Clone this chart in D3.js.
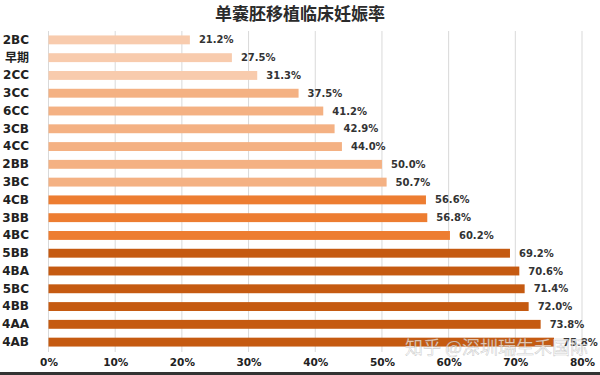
<!DOCTYPE html>
<html>
<head>
<meta charset="utf-8">
<script src="https://cdn.jsdelivr.net/npm/d3@7"></script>
<style>
  body { margin: 0; background: #fff; }
  svg { display: block; font-family: "DejaVu Sans", "Noto Sans CJK SC", sans-serif; }
</style>
</head>
<body>
<div id="chart"></div>
<script>
const categories = ["2BC", "早期", "2CC", "3CC", "6CC", "3CB", "4CC", "2BB", "3BC",
                    "4CB", "3BB", "4BC", "5BB", "4BA", "5BC", "4BB", "4AA", "4AB"];
const rates = [21.2, 27.5, 31.3, 37.5, 41.2, 42.9, 44.0, 50.0, 50.7,
               56.6, 56.8, 60.2, 69.2, 70.6, 71.4, 72.0, 73.8, 75.8];
// colour group of each bar
const groups = [0, 0, 0, 1, 1, 1, 1, 1, 1, 2, 2, 2, 3, 3, 3, 3, 3, 3];
const groupColors = ["#f8cbad", "#f4b183", "#ed7d31", "#c55a11"];
const xTicks = [0, 10, 20, 30, 40, 50, 60, 70, 80];

const W = 600, H = 375;
const margin = {top: 31, right: 18, bottom: 24, left: 48.5};
const labelFont = "'DejaVu Sans', 'Noto Sans CJK SC', sans-serif";

const svg = d3.select("#chart").append("svg")
  .attr("width", W).attr("height", H);

const x = d3.scaleLinear().domain([0, 80]).range([margin.left, W - margin.right]);
const y = d3.scaleBand().domain(categories)
  .range([margin.top, H - margin.bottom]).paddingInner(0.5).paddingOuter(0.25);

// title
svg.append("text")
  .attr("x", 300).attr("y", 20)
  .attr("text-anchor", "middle")
  .style("font-family", "'Noto Sans CJK SC', sans-serif")
  .style("font-size", "17px").style("font-weight", "bold")
  .style("fill", "#2b2b2b")
  .text("单囊胚移植临床妊娠率");

// gridlines
svg.append("g")
  .selectAll("line")
  .data(xTicks)
  .enter()
  .append("line")
  .attr("x1", d => x(d)).attr("x2", d => x(d))
  .attr("y1", margin.top).attr("y2", H - margin.bottom + 1)
  .attr("stroke", "#d9d9d9").attr("stroke-width", 1);

// bars
svg.append("g")
  .selectAll("rect")
  .data(categories)
  .enter()
  .append("rect")
  .attr("x", x(0))
  .attr("y", d => y(d))
  .attr("width", (d, i) => x(rates[i]) - x(0))
  .attr("height", y.bandwidth())
  .style("fill", (d, i) => groupColors[groups[i]]);

// value labels
svg.append("g")
  .selectAll("text")
  .data(categories)
  .enter()
  .append("text")
  .attr("x", (d, i) => x(rates[i]) + 9)
  .attr("y", d => y(d) + y.bandwidth() / 2 + 3.5)
  .style("font-family", labelFont)
  .style("font-size", "10px").style("font-weight", "bold")
  .style("fill", "#333")
  .text((d, i) => rates[i].toFixed(1) + "%");

// category axis
const yAxis = svg.append("g")
  .attr("transform", `translate(29,0)`)
  .call(d3.axisLeft(y).tickSize(0).tickPadding(0));
yAxis.select(".domain").remove();
yAxis.selectAll("text")
  .style("font-family", labelFont)
  .style("font-size", "12px").style("font-weight", "bold")
  .style("fill", "#222");

// value axis
const xAxis = svg.append("g")
  .attr("transform", `translate(0,${H - margin.bottom + 8})`)
  .call(d3.axisBottom(x).tickValues(xTicks).tickFormat(d => d + "%").tickSize(0).tickPadding(0));
xAxis.select(".domain").remove();
xAxis.selectAll("text")
  .style("font-family", labelFont)
  .style("font-size", "10.5px").style("font-weight", "bold")
  .style("fill", "#222");

// watermark
svg.append("text")
  .attr("x", 405).attr("y", 354)
  .style("font-family", "'Noto Sans CJK SC', sans-serif")
  .style("font-size", "18px")
  .style("fill", "rgba(255,255,255,0.7)")
  .style("stroke", "rgba(110,110,110,0.35)")
  .style("stroke-width", 0.6)
  .text("知乎 @深圳瑞生禾国际");

// bottom border
svg.append("line")
  .attr("x1", 0).attr("x2", W)
  .attr("y1", H - 1.5).attr("y2", H - 1.5)
  .attr("stroke", "#333").attr("stroke-width", 3);
</script>
</body>
</html>
